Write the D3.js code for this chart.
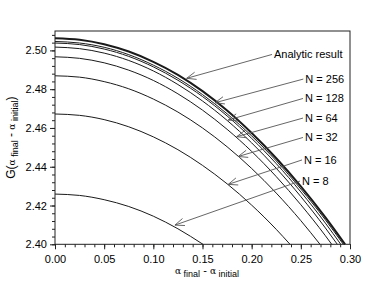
<!DOCTYPE html>
<html>
<head>
<meta charset="utf-8">
<script src="https://cdn.jsdelivr.net/npm/d3@7"></script>
<style>
  body { margin: 0; background: #fff; }
  text { font-family: Arial, "Liberation Sans", sans-serif; fill: #000; }
</style>
</head>
<body>
<svg id="chart" width="367" height="285"></svg>
<script>
let margin = {top: 31, right: 17, bottom: 40.7, left: 55};
let width = 367, height = 285;

// alpha_final - alpha_initial sample points
let xs = [0, 0.025, 0.05, 0.075, 0.10, 0.125, 0.15, 0.175, 0.20, 0.225, 0.25, 0.275];

// G values, one array per curve (last point is where it hits 2.40)
let analytic = [2.5063, 2.5055, 2.5032, 2.4994, 2.4941, 2.4874, 2.4790, 2.4690, 2.4574, 2.4444, 2.4299, 2.4139];
let n512 = [2.5046, 2.5038, 2.5016, 2.4978, 2.4924, 2.4856, 2.4772, 2.4673, 2.4559, 2.4430, 2.4285, 2.4126];
let n256 = [2.5038, 2.5030, 2.5007, 2.4969, 2.4915, 2.4846, 2.4762, 2.4662, 2.4546, 2.4416, 2.4270, 2.4109];
let n128 = [2.5017, 2.5009, 2.4986, 2.4948, 2.4894, 2.4824, 2.4739, 2.4639, 2.4523, 2.4392, 2.4246, 2.4084];
let n64  = [2.4967, 2.4959, 2.4936, 2.4898, 2.4845, 2.4776, 2.4692, 2.4593, 2.4479, 2.4349, 2.4204, 2.4044];
let n32  = [2.4869, 2.4862, 2.4839, 2.4802, 2.4749, 2.4682, 2.4600, 2.4503, 2.4391, 2.4264, 2.4122];
let n16  = [2.4672, 2.4665, 2.4643, 2.4606, 2.4554, 2.4488, 2.4407, 2.4312, 2.4202, 2.4077];
let n8   = [2.4259, 2.4252, 2.4230, 2.4195, 2.4145, 2.4080];
let endX = [0.2950, 0.2932, 0.2906, 0.2871, 0.2814, 0.2695, 0.2390, 0.1505];

let xTicks = [0, 0.05, 0.10, 0.15, 0.20, 0.25, 0.30];
let yTicks = [2.40, 2.42, 2.44, 2.46, 2.48, 2.50];

// annotations: label, arrow tip (x, G), arrow tail (x, G)
let labels = ["Analytic result", "N = 256", "N = 128", "N = 64", "N = 32", "N = 16", "N = 8"];
let tipX  = [0.1339, 0.1627, 0.1762, 0.1848, 0.1864, 0.1762, 0.1220];
let tipG  = [2.4856, 2.4730, 2.4641, 2.4555, 2.4453, 2.4309, 2.4099];
let tailX = [0.2207, 0.2525, 0.2522, 0.2522, 0.2522, 0.2512, 0.2492];
let tailG = [2.4979, 2.4852, 2.4752, 2.4651, 2.4551, 2.4435, 2.4326];

let series = [analytic, n512, n256, n128, n64, n32, n16, n8].map((vals, i) => {
  let pts = vals.map((v, j) => [xs[j], v]);
  pts.push([endX[i], 2.40]);
  return {pts: pts, thick: i === 0};
});

const svg = d3.select("#chart");

let x = d3.scaleLinear().domain([0, 0.30]).range([margin.left, width - margin.right]);
let y = d3.scaleLinear().domain([2.40, 2.51]).range([height - margin.bottom, margin.top]);

// curves
let line = d3.line().x(d => x(d[0])).y(d => y(d[1])).curve(d3.curveMonotoneX);
svg.append("g")
  .selectAll("path")
  .data(series)
  .enter()
  .append("path")
  .attr("d", d => line(d.pts))
  .attr("fill", "none")
  .attr("stroke", "#1a1a1a")
  .attr("stroke-width", d => d.thick ? 2 : 1);

// frame
svg.append("rect")
  .attr("x", x(0)).attr("y", y(2.51))
  .attr("width", x(0.30) - x(0)).attr("height", y(2.40) - y(2.51))
  .attr("fill", "none").attr("stroke", "#222").attr("stroke-width", 1);

// axes
let xMinor = d3.range(0, 31).map(d => d / 100);
let yMinor = d3.range(0, 28).map(d => 2.40 + d * 0.004);

svg.append("g")
  .attr("transform", "translate(0," + y(2.40) + ")")
  .call(d3.axisBottom(x).tickValues(xMinor).tickSize(3).tickFormat(""))
  .call(g => g.select(".domain").remove());
svg.append("g")
  .attr("transform", "translate(0," + y(2.40) + ")")
  .call(d3.axisBottom(x).tickValues(xTicks).tickSize(5).tickPadding(6).tickFormat(d3.format(".2f")))
  .call(g => g.select(".domain").remove())
  .selectAll("text").style("font-size", "11px");

svg.append("g")
  .attr("transform", "translate(" + x(0) + ",0)")
  .call(d3.axisLeft(y).tickValues(yMinor).tickSize(3).tickFormat(""))
  .call(g => g.select(".domain").remove());
svg.append("g")
  .attr("transform", "translate(" + x(0) + ",0)")
  .call(d3.axisLeft(y).tickValues(yTicks).tickSize(5).tickPadding(3).tickFormat(d3.format(".2f")))
  .call(g => g.select(".domain").remove())
  .selectAll("text").style("font-size", "11px");

svg.selectAll(".tick line").attr("stroke", "#222");

// annotations with open arrow heads
let ann = svg.append("g");
labels.forEach((lab, i) => {
  let x1 = x(tailX[i]), y1 = y(tailG[i]);
  let x2 = x(tipX[i]), y2 = y(tipG[i]);
  let a = Math.atan2(y1 - y2, x1 - x2);
  let len = 10, spread = 0.38;
  ann.append("line")
    .attr("x1", x1).attr("y1", y1).attr("x2", x2).attr("y2", y2)
    .attr("stroke", "#555").attr("stroke-width", 0.9);
  ann.append("path")
    .attr("d", "M" + (x2 + len * Math.cos(a + spread)) + "," + (y2 + len * Math.sin(a + spread)) +
               "L" + x2 + "," + y2 +
               "L" + (x2 + len * Math.cos(a - spread)) + "," + (y2 + len * Math.sin(a - spread)))
    .attr("fill", "none").attr("stroke", "#555").attr("stroke-width", 0.9);
  ann.append("text")
    .attr("x", x1 + 2).attr("y", y1).attr("dy", "0.36em")
    .style("font-size", "11px")
    .text(lab);
});

// axis titles
let xt = svg.append("text")
  .attr("x", 207).attr("y", 274)
  .attr("text-anchor", "middle")
  .style("font-size", "11px");
xt.append("tspan").style("font-family", "'DejaVu Serif', serif").style("font-size", "9px").text("α");
xt.append("tspan").attr("dy", 3).style("font-size", "9px").text(" final");
xt.append("tspan").attr("dy", -3).text(" - ");
xt.append("tspan").style("font-family", "'DejaVu Serif', serif").style("font-size", "9px").text("α");
xt.append("tspan").attr("dy", 3).style("font-size", "9px").text(" initial");

let yt = svg.append("text")
  .attr("transform", "translate(15," + ((y(2.40) + y(2.51)) / 2) + ") rotate(-90)")
  .attr("text-anchor", "middle")
  .style("font-size", "12px");
yt.append("tspan").text("G(");
yt.append("tspan").style("font-family", "'DejaVu Serif', serif").style("font-size", "9px").text("α");
yt.append("tspan").attr("dy", 3).style("font-size", "9px").text(" final");
yt.append("tspan").attr("dy", -3).text(" - ");
yt.append("tspan").style("font-family", "'DejaVu Serif', serif").style("font-size", "9px").text("α");
yt.append("tspan").attr("dy", 3).style("font-size", "9px").text(" initial");
yt.append("tspan").attr("dy", -3).text(")");
</script>
</body>
</html>
